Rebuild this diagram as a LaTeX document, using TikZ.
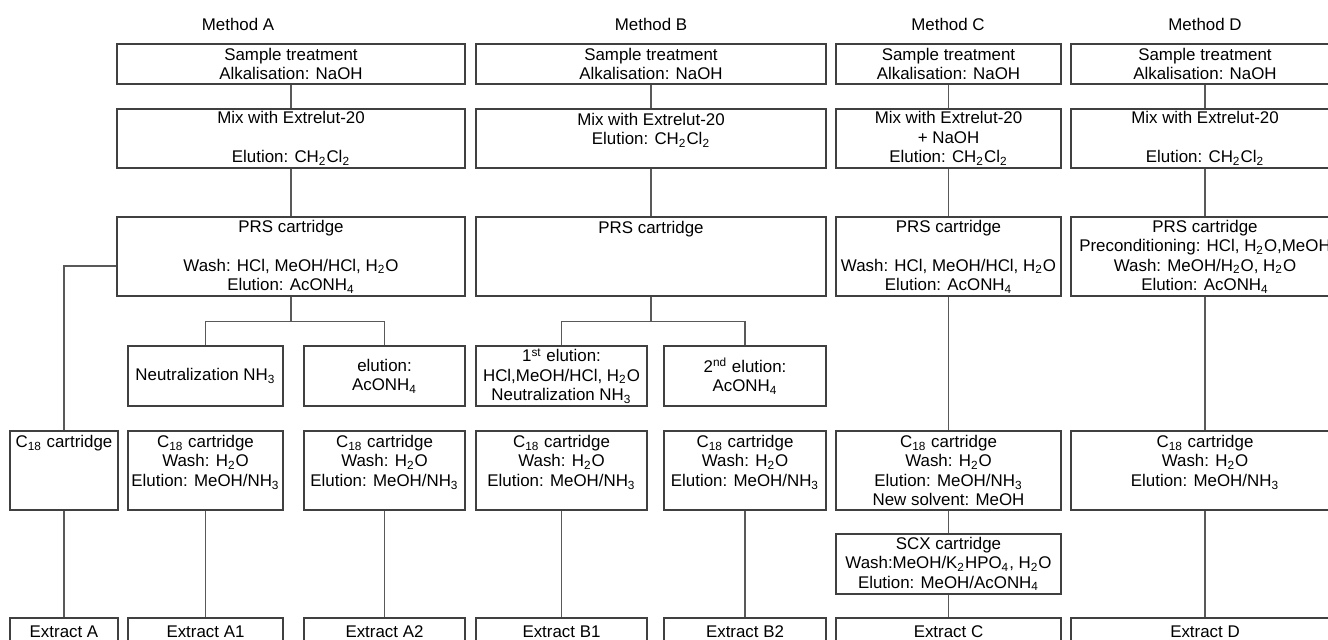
\documentclass[tikz,border=0pt]{standalone}
\usepackage{fontspec}
\setmainfont{Liberation Sans}
\usepackage{tikz}
\newcommand{\subs}[1]{\textsubscript{#1}}

\begin{document}
\begin{tikzpicture}[x=0.5pt,y=-0.5pt,font=\fontsize{8.45pt}{9.75pt}\selectfont,
  stepbox/.style={rectangle,draw=black!75,line width=0.75pt,fill=white,inner sep=0pt,align=center},
  link/.style={draw=black!65,line width=0.7pt},
  title/.style={inner sep=0pt},
  colA/.style={minimum width=174pt},colB/.style={minimum width=175pt},
  colC/.style={minimum width=112.5pt},colD/.style={minimum width=134pt},
  rowone/.style={minimum height=20pt},rowtwo/.style={minimum height=29.5pt},
  rowthree/.style={minimum height=39.5pt},rowfour/.style={minimum height=30pt},
  rowfive/.style={minimum height=39.5pt},rowsix/.style={minimum height=30pt},
  rowseven/.style={minimum height=14pt}]
\useasboundingbox (0,0) rectangle (1328,639);
\clip (0,0) rectangle (1328,639);

% method headers
\node[title] (hdA) at (238,24) {Method A};
\node[title] (hdB) at (651,24) {Method B};
\node[title] (hdC) at (948,24) {Method C};
\node[title] (hdD) at (1205,24) {Method D};

% sample treatment
\node[stepbox,colA,rowone] (trtA) at (291,64) {Sample treatment\\Alkalisation: NaOH};
\node[stepbox,colB,rowone] (trtB) at (651,64) {Sample treatment\\Alkalisation: NaOH};
\node[stepbox,colC,rowone] (trtC) at (948.5,64) {Sample treatment\\Alkalisation: NaOH};
\node[stepbox,colD,rowone] (trtD) at (1205,64) {Sample treatment\\Alkalisation: NaOH};

% extrelut
\node[stepbox,colA,rowtwo] (mixA) at (291,138.5) {Mix with Extrelut-20\\\mbox{}\\Elution: CH\subs{2}Cl\subs{2}};
\node[stepbox,colB,rowtwo] (mixB) at (651,138.5) {Mix with Extrelut-20\\Elution: CH\subs{2}Cl\subs{2}\\\mbox{}};
\node[stepbox,colC,rowtwo] (mixC) at (948.5,138.5) {Mix with Extrelut-20\\+ NaOH\\Elution: CH\subs{2}Cl\subs{2}};
\node[stepbox,colD,rowtwo] (mixD) at (1205,138.5) {Mix with Extrelut-20\\\mbox{}\\Elution: CH\subs{2}Cl\subs{2}};

% PRS cartridges
\node[stepbox,colA,rowthree] (prsA) at (291,256.5) {PRS cartridge\\\mbox{}\\Wash: HCl, MeOH/HCl, H\subs{2}O\\Elution: AcONH\subs{4}};
\node[stepbox,colB,rowthree] (prsB) at (651,256.5) {PRS cartridge\\\mbox{}\\\mbox{}\\\mbox{}};
\node[stepbox,colC,rowthree] (prsC) at (948.5,256.5) {PRS cartridge\\\mbox{}\\Wash: HCl, MeOH/HCl, H\subs{2}O\\Elution: AcONH\subs{4}};
\node[stepbox,colD,rowthree] (prsD) at (1205,256.5) {PRS cartridge\\Preconditioning: HCl, H\subs{2}O,MeOH\\Wash: MeOH/H\subs{2}O, H\subs{2}O\\Elution: AcONH\subs{4}};

% elution fractions
\node[stepbox,rowfour,minimum width=77.5pt] (neuA) at (205.5,376) {Neutralization NH\subs{3}};
\node[stepbox,rowfour,minimum width=80.5pt] (eluA) at (384.5,376) {elution:\\AcONH\subs{4}};
\node[stepbox,rowfour,minimum width=85.5pt] (eluBa) at (561.5,376) {1\textsuperscript{st} elution:\\HCl,MeOH/HCl, H\subs{2}O\\Neutralization NH\subs{3}};
\node[stepbox,rowfour,minimum width=81pt] (eluBb) at (745,376) {2\textsuperscript{nd} elution:\\AcONH\subs{4}};

% C18 cartridges
\node[stepbox,rowfive,minimum width=54pt] (c18A) at (64,470.5) {C\subs{18} cartridge\\\mbox{}\\\mbox{}\\\mbox{}};
\node[stepbox,rowfive,minimum width=77.5pt] (c18Aa) at (205.5,470.5) {C\subs{18} cartridge\\Wash: H\subs{2}O\\Elution: MeOH/NH\subs{3}\\\mbox{}};
\node[stepbox,rowfive,minimum width=80.5pt] (c18Ab) at (384.5,470.5) {C\subs{18} cartridge\\Wash: H\subs{2}O\\Elution: MeOH/NH\subs{3}\\\mbox{}};
\node[stepbox,rowfive,minimum width=85.5pt] (c18Ba) at (561.5,470.5) {C\subs{18} cartridge\\Wash: H\subs{2}O\\Elution: MeOH/NH\subs{3}\\\mbox{}};
\node[stepbox,rowfive,minimum width=81pt] (c18Bb) at (745,470.5) {C\subs{18} cartridge\\Wash: H\subs{2}O\\Elution: MeOH/NH\subs{3}\\\mbox{}};
\node[stepbox,colC,rowfive] (c18C) at (948.5,470.5) {C\subs{18} cartridge\\Wash: H\subs{2}O\\Elution: MeOH/NH\subs{3}\\New solvent: MeOH};
\node[stepbox,colD,rowfive] (c18D) at (1205,470.5) {C\subs{18} cartridge\\Wash: H\subs{2}O\\Elution: MeOH/NH\subs{3}\\\mbox{}};

% SCX
\node[stepbox,colC,rowsix] (scxC) at (948.5,564) {SCX cartridge\\Wash:MeOH/K\subs{2}HPO\subs{4}, H\subs{2}O\\Elution: MeOH/AcONH\subs{4}};

% extracts
\node[stepbox,rowseven,minimum width=54pt] (extA) at (64,632) {Extract A};
\node[stepbox,rowseven,minimum width=77.5pt] (extAa) at (205.5,632) {Extract A1};
\node[stepbox,rowseven,minimum width=80.5pt] (extAb) at (384.5,632) {Extract A2};
\node[stepbox,rowseven,minimum width=85.5pt] (extBa) at (561.5,632) {Extract B1};
\node[stepbox,rowseven,minimum width=81pt] (extBb) at (745,632) {Extract B2};
\node[stepbox,colC,rowseven] (extC) at (948.5,632) {Extract C};
\node[stepbox,colD,rowseven] (extD) at (1205,632) {Extract D};

% connectors
\draw[link] (trtA) -- (mixA);
\draw[link] (trtB) -- (mixB);
\draw[link] (trtC) -- (mixC);
\draw[link] (trtD) -- (mixD);
\draw[link] (mixA) -- (prsA);
\draw[link] (mixB) -- (prsB);
\draw[link] (mixC) -- (prsC);
\draw[link] (mixD) -- (prsD);
\draw[link] ([yshift=-4.75pt]prsA.west) -| (c18A.north);
\draw[link] (prsA.south) -- ++(0,25) coordinate (brA);
\draw[link] (neuA.north) |- (brA) -| (eluA.north);
\draw[link] (prsB.south) -- ++(0,25) coordinate (brB);
\draw[link] (eluBa.north) |- (brB) -| (eluBb.north);
\draw[link] (prsC) -- (c18C);
\draw[link] (prsD) -- (c18D);
\draw[link] (c18C) -- (scxC);
\draw[link] (scxC) -- (extC);
\draw[link] (c18A) -- (extA);
\draw[link] (c18Aa) -- (extAa);
\draw[link] (c18Ab) -- (extAb);
\draw[link] (c18Ba) -- (extBa);
\draw[link] (c18Bb) -- (extBb);
\draw[link] (c18D) -- (extD);
\end{tikzpicture}
\end{document}
